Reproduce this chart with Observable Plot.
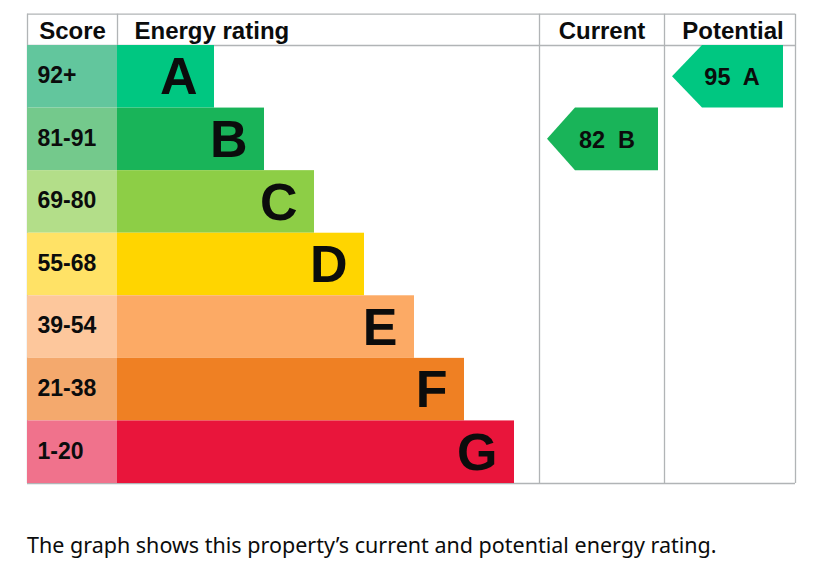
<!DOCTYPE html>
<html>
<head>
<meta charset="utf-8">
<script src="https://cdn.jsdelivr.net/npm/d3@7"></script>
<script src="https://cdn.jsdelivr.net/npm/@observablehq/plot@0.6"></script>
<style>
  html, body { margin: 0; padding: 0; background: #fff; }
  #chart { position: absolute; left: 0; top: 0; }
  #caption { position: absolute; left: 27px; top: 531px; font-family: "Noto Sans", sans-serif; font-size: 21.5px; line-height: 28px; color: #0b0c0c; white-space: nowrap; }
</style>
</head>
<body>
<div id="chart"></div>
<div id="caption">The graph shows this property’s current and potential energy rating.</div>
<script>
// Data
const bands = ["A", "B", "C", "D", "E", "F", "G"];
const scoreRanges = ["92+", "81-91", "69-80", "55-68", "39-54", "21-38", "1-20"];
const bandColors = ["#00c781", "#19b459", "#8dce46", "#ffd500", "#fcaa65", "#ef8023", "#e9153b"];
const scoreColors = ["#62c69d", "#74c98c", "#b3de89", "#ffe266", "#fdc79c", "#f4a96d", "#f0728c"];
const headers = ["Score", "Energy rating", "Current", "Potential"];
const currentRating = { score: 82, band: "B" };
const potentialRating = { score: 95, band: "A" };

// Layout (in x-scale units)
const colScore = [0, 90];
const colCurrent = [512, 637];
const colPotential = [637, 768];
const barStart = 90;
const barEnd = i => 137 + 50 * (i + 1);

const rows = bands.map((b, i) => ({
  band: b, score: scoreRanges[i], color: bandColors[i], scoreColor: scoreColors[i], i,
  end: barEnd(i)
}));

function arrow(rating, col, tipInset, rightInset, bodyOffset) {
  const i = bands.indexOf(rating.band);
  const tip = col[0] + tipInset, right = col[1] - rightInset, body = tip + bodyOffset;
  return {
    pts: [
      { y: i, x1: body, x2: right },
      { y: i + 0.5, x1: tip, x2: right },
      { y: i + 1, x1: body, x2: right }
    ],
    label: `${rating.score}  ${rating.band}`,
    cx: (tip + right) / 2 + 4,
    cy: i + 0.5,
    color: bandColors[i]
  };
}
const cur = arrow(currentRating, colCurrent, 8, 6, 28);
const pot = arrow(potentialRating, colPotential, 8, 12, 30);

const grid = "#b1b4b6";
const headerY = -0.25;
const font = "'Liberation Sans', Arial, sans-serif";

const plot = Plot.plot({
  width: 829,
  height: 500,
  marginTop: 45,
  marginBottom: 17,
  marginLeft: 27,
  marginRight: 34,
  x: { domain: [0, 768], axis: null },
  y: { domain: [0, 7], axis: null, reverse: true },
  style: { fontFamily: font, background: "#fff" },
  marks: [
    // frame lines
    Plot.ruleY([-0.5, 0, 7], { x1: 0, x2: 768, stroke: grid, strokeWidth: 1.3 }),
    Plot.ruleX([0, 768, colCurrent[0], colPotential[0]], { y1: -0.5, y2: 7, stroke: grid, strokeWidth: 1.3 }),
    Plot.ruleX([barStart], { y1: -0.5, y2: 0, stroke: grid, strokeWidth: 1.3 }),
    // score column
    Plot.rect(rows, { x1: colScore[0], x2: colScore[1], y1: d => d.i, y2: d => d.i + 1, fill: d => d.scoreColor }),
    // bars
    Plot.rect(rows, { x1: barStart, x2: "end", y1: d => d.i, y2: d => d.i + 1, fill: "color" }),
    // score labels
    Plot.text(rows, { x: colScore[0] + 10, y: d => d.i + 0.5, text: "score", textAnchor: "start", fontSize: 23, fontWeight: "bold", fill: "#0b0c0c", dy: -1 }),
    // band letters
    Plot.text(rows, { x: d => d.end - 17, y: d => d.i + 0.5, text: "band", textAnchor: "end", fontSize: 52, fontWeight: "bold", fill: "#0b0c0c", dy: 1 }),
    // headers
    Plot.text([headers[0]], { x: 45, y: headerY, text: d => d, fontSize: 24, fontWeight: "bold", fill: "#0b0c0c", dy: 1 }),
    Plot.text([headers[1]], { x: barStart + 17, y: headerY, text: d => d, textAnchor: "start", fontSize: 24, fontWeight: "bold", fill: "#0b0c0c", dy: 1 }),
    Plot.text([headers[2]], { x: (colCurrent[0] + colCurrent[1]) / 2, y: headerY, text: d => d, fontSize: 24, fontWeight: "bold", fill: "#0b0c0c", dy: 1 }),
    Plot.text([headers[3]], { x: (colPotential[0] + colPotential[1]) / 2 + 3, y: headerY, text: d => d, fontSize: 24, fontWeight: "bold", fill: "#0b0c0c", dy: 1 }),
    // arrows
    Plot.areaX(cur.pts, { y: "y", x1: "x1", x2: "x2", fill: cur.color, curve: "linear" }),
    Plot.areaX(pot.pts, { y: "y", x1: "x1", x2: "x2", fill: pot.color, curve: "linear" }),
    Plot.text([cur], { x: "cx", y: "cy", text: "label", fontSize: 23.5, fontWeight: "bold", fill: "#0b0c0c", dy: 1 }),
    Plot.text([pot], { x: "cx", y: "cy", text: "label", fontSize: 23.5, fontWeight: "bold", fill: "#0b0c0c", dy: 1 })
  ]
});
document.getElementById("chart").appendChild(plot);
</script>
</body>
</html>
